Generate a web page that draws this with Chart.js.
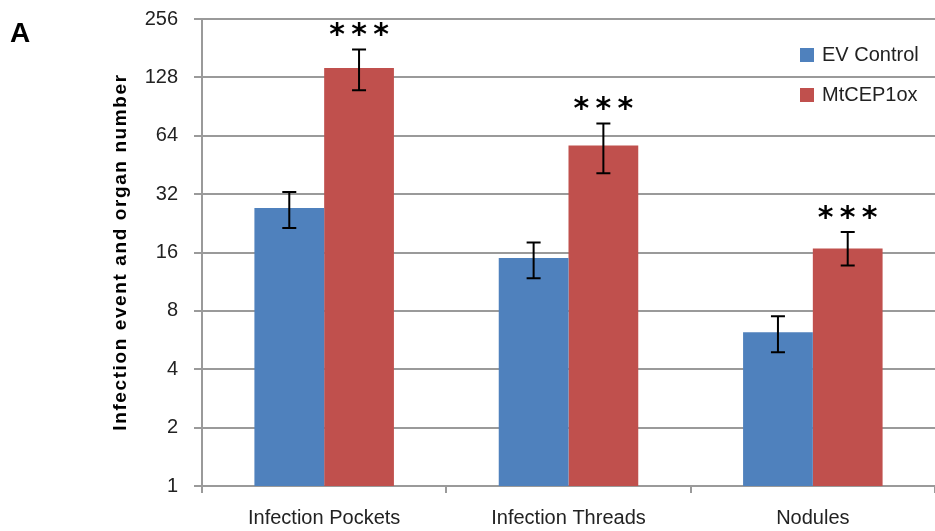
<!DOCTYPE html>
<html>
<head>
<meta charset="utf-8">
<script src="https://cdn.jsdelivr.net/npm/chart.js@4.4.1/dist/chart.umd.min.js"></script>
<style>
  html, body { margin: 0; padding: 0; background: #fff; }
  #wrap { width: 935px; height: 531px; position: relative; }
</style>
</head>
<body>
<div id="wrap"><canvas id="chart"></canvas></div>
<script>
// data
var categories = ['Infection Pockets', 'Infection Threads', 'Nodules'];
var evControl = [27.1, 15.0, 6.2];
var evLow = [21.4, 11.8, 4.9];
var evHigh = [32.8, 18.0, 7.5];
var cep1ox = [143, 57, 16.8];
var cepLow = [110, 41, 13.7];
var cepHigh = [178, 74, 20.4];
var stars = ['***', '***', '***'];
var yTicks = [1, 2, 4, 8, 16, 32, 64, 128, 256];

const font = 'Liberation Sans';
const gridColor = '#9a9a9a';

// error bars, significance stars, axis title, legend, panel letter
var extras = {
  id: 'extras',
  afterDatasetsDraw(chart) {
    var ctx = chart.ctx;
    var y = chart.scales.y;
    var lows = [evLow, cepLow];
    var highs = [evHigh, cepHigh];

    ctx.save();
    ctx.strokeStyle = '#000';
    ctx.lineWidth = 2;
    for (var d = 0; d < 2; d++) {
      var meta = chart.getDatasetMeta(d);
      meta.data.forEach(function (bar, i) {
        var top = y.getPixelForValue(highs[d][i]);
        var bot = y.getPixelForValue(lows[d][i]);
        ctx.beginPath();
        ctx.moveTo(bar.x, top); ctx.lineTo(bar.x, bot);
        ctx.moveTo(bar.x - 7, top); ctx.lineTo(bar.x + 7, top);
        ctx.moveTo(bar.x - 7, bot); ctx.lineTo(bar.x + 7, bot);
        ctx.stroke();
      });
    }

    // stars above red bars
    ctx.fillStyle = '#000';
    ctx.font = 'bold 30px "DejaVu Sans"';
    ctx.textAlign = 'center';
    ctx.textBaseline = 'alphabetic';
    var m = ctx.measureText('*');
    var mid = (m.actualBoundingBoxAscent - m.actualBoundingBoxDescent) / 2;
    var red = chart.getDatasetMeta(1);
    red.data.forEach(function (bar, i) {
      var cy = y.getPixelForValue(cepHigh[i]) - 20;
      for (var k = 0; k < stars[i].length; k++) {
        ctx.fillText('*', bar.x + (k - 1) * 22, cy + mid);
      }
    });

    // y axis title
    ctx.save();
    ctx.translate(121, 252);
    ctx.rotate(-Math.PI / 2);
    ctx.font = 'bold 19px "' + font + '"';
    ctx.letterSpacing = '1.6px';
    ctx.textAlign = 'center';
    ctx.textBaseline = 'middle';
    ctx.fillText('Infection event and organ number', 0, 0);
    ctx.restore();

    // legend
    ctx.font = '20px "' + font + '"';
    ctx.textAlign = 'left';
    ctx.textBaseline = 'middle';
    chart.data.datasets.forEach(function (ds, i) {
      var ly = 55 + i * 40;
      ctx.fillStyle = ds.backgroundColor;
      ctx.fillRect(800, ly - 7, 14, 14);
      ctx.fillStyle = '#222';
      ctx.fillText(ds.label, 822, ly);
    });

    // panel letter
    ctx.fillStyle = '#000';
    ctx.font = 'bold 28px "' + font + '"';
    ctx.textBaseline = 'alphabetic';
    ctx.fillText('A', 10, 42);
    ctx.restore();
  }
};

new Chart(document.getElementById('chart'), {
  type: 'bar',
  data: {
    labels: categories,
    datasets: [
      { label: 'EV Control', data: evControl, backgroundColor: '#4F81BD' },
      { label: 'MtCEP1ox', data: cep1ox, backgroundColor: '#C0504D' }
    ]
  },
  options: {
    responsive: true,
    maintainAspectRatio: false,
    animation: false,
    layout: { padding: { top: 19, left: 0, right: 0, bottom: 0 } },
    plugins: { legend: { display: false }, tooltip: { enabled: false } },
    datasets: { bar: { barPercentage: 1, categoryPercentage: 0.571 } },
    scales: {
      x: {
        afterFit: function (s) { s.height = 45; s.paddingLeft = 0; s.paddingRight = 0; },
        grid: { offset: true, drawOnChartArea: false, drawTicks: true, tickLength: 7, color: gridColor, lineWidth: 2 },
        border: { color: gridColor, width: 2 },
        ticks: { color: '#222', padding: 13, font: { family: font, size: 20 } }
      },
      y: {
        type: 'logarithmic',
        min: 1,
        max: 256,
        afterFit: function (s) { s.width = 202; s.paddingTop = 0; s.paddingBottom = 0; },
        afterBuildTicks: function (s) { s.ticks = yTicks.map(function (v) { return { value: v }; }); },
        grid: { color: gridColor, lineWidth: 2, tickLength: 8 },
        border: { color: gridColor, width: 2 },
        ticks: {
          color: '#222', padding: 16, font: { family: font, size: 20 },
          callback: function (v) { return String(v); }
        }
      }
    }
  },
  plugins: [extras]
});
</script>
</body>
</html>
